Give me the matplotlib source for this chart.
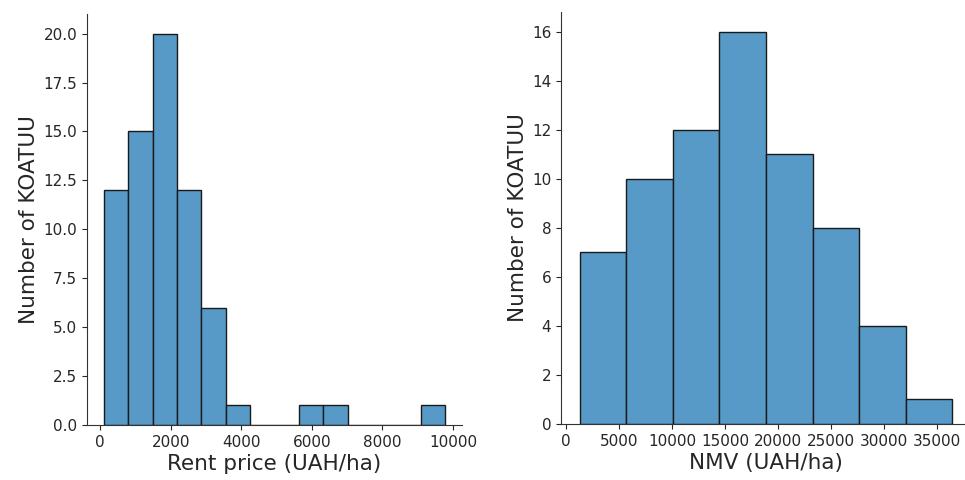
import numpy as np
import matplotlib
matplotlib.use("Agg")
import matplotlib.pyplot as plt

# Rent price histogram (UAH/ha): bin edges and counts
rent_edges = [113, 803, 1493, 2183, 2873, 3563, 4253, 4943, 5633, 6323,
              7013, 7703, 8393, 9083, 9773]
rent_counts = [12, 15, 20, 12, 6, 1, 0, 0, 1, 1, 0, 0, 0, 1]

# Normative monetary value histogram (UAH/ha): bin edges and counts
nmv_edges = [1296, 5686, 10076, 14466, 18856, 23246, 27636, 32026, 36416]
nmv_counts = [7, 10, 12, 16, 11, 8, 4, 1]

rent_ticks = [0, 2000, 4000, 6000, 8000, 10000]
rent_yticks = [0.0, 2.5, 5.0, 7.5, 10.0, 12.5, 15.0, 17.5, 20.0]
nmv_ticks = [0, 5000, 10000, 15000, 20000, 25000, 30000, 35000]
nmv_yticks = [0, 2, 4, 6, 8, 10, 12, 14, 16]

text_color = "#262626"
fill = (0.341, 0.600, 0.780)

plt.rcParams.update({
    "font.family": "DejaVu Sans",
    "xtick.color": text_color,
    "ytick.color": text_color,
    "xtick.labelcolor": text_color,
    "ytick.labelcolor": text_color,
    "axes.edgecolor": "#333333",
    "axes.labelcolor": text_color,
})

W, H = 965, 480
fig = plt.figure(figsize=(W / 100, H / 100), dpi=100)
ax1 = fig.add_axes([87 / W, 1 - 425 / H, (462 - 87) / W, (425 - 14) / H])
ax2 = fig.add_axes([561 / W, 1 - 424 / H, (971 - 561) / W, (424 - 12) / H])


def draw_hist(ax, edges, counts, xlabel, xticks, yticks, yfmt):
    edges = np.asarray(edges, dtype=float)
    centers = (edges[:-1] + edges[1:]) / 2
    ax.hist(centers, bins=edges, weights=counts, color=fill,
            edgecolor="#1a1a1a", linewidth=1.0)
    ax.set_xlabel(xlabel, fontsize=15.5, labelpad=3)
    ax.set_ylabel("Number of KOATUU", fontsize=15.5, labelpad=3)
    ax.set_xticks(xticks)
    ax.set_yticks(yticks)
    ax.set_yticklabels([yfmt.format(v) for v in yticks])
    ax.tick_params(labelsize=11)
    ax.spines["top"].set_visible(False)
    ax.spines["right"].set_visible(False)


draw_hist(ax1, rent_edges, rent_counts, "Rent price (UAH/ha)",
          rent_ticks, rent_yticks, "{:.1f}")
draw_hist(ax2, nmv_edges, nmv_counts, "NMV (UAH/ha)",
          nmv_ticks, nmv_yticks, "{:d}")

fig.savefig("out.png", dpi=100)
